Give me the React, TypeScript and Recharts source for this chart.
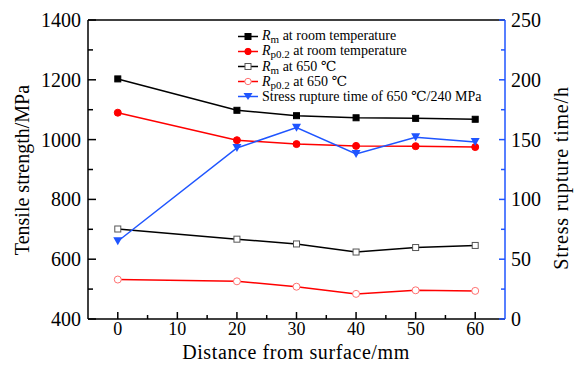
import React from 'react';
import { LineChart, Line, XAxis, YAxis, Legend, ReferenceLine, Label } from 'recharts';

// distance from surface (mm)
const distances = [0, 20, 30, 40, 50, 60];
// tensile strength (MPa)
const rmRoom = [1203, 1098, 1080, 1073, 1071, 1068];
const rpRoom = [1090, 998, 985, 979, 978, 975];
const rm650 = [701, 667, 651, 624, 639, 646];
const rp650 = [532, 526, 508, 484, 496, 494];
// stress rupture time (h)
const ruptureTime = [65, 143, 160, 138, 152, 148];

const xTicks = [0, 5, 10, 15, 20, 25, 30, 35, 40, 45, 50, 55, 60];
const leftTicks = [400, 500, 600, 700, 800, 900, 1000, 1100, 1200, 1300, 1400];
const rightTicks = [0, 25, 50, 75, 100, 125, 150, 175, 200, 225, 250];

const data = distances.map((d, i) => ({
  distance: d,
  rmRoom: rmRoom[i],
  rpRoom: rpRoom[i],
  rm650: rm650[i],
  rp650: rp650[i],
  rupture: ruptureTime[i],
}));

const FONT = 'Liberation Serif, DejaVu Serif, serif';
const BLUE = '#1f55ff';
const RED = '#ff0000';
const PINK = '#ff7070';

const XTick = ({ x, y, payload }: any) => {
  const major = payload.value % 10 === 0;
  return (
    <g>
      <line x1={x} x2={x} y1={y} y2={y - (major ? 7 : 4)} stroke="#000" strokeWidth={1.5} />
      {major && (
        <text x={x} y={y + 16} textAnchor="middle" fontSize={18} style={{ fontFamily: FONT }} fill="#000">
          {payload.value}
        </text>
      )}
    </g>
  );
};

const LeftTick = ({ x, y, payload }: any) => {
  const major = payload.value % 200 === 0;
  return (
    <g>
      <line x1={x} x2={x + (major ? 8 : 5)} y1={y} y2={y} stroke="#000" strokeWidth={1.5} />
      {major && (
        <text x={x - 7} y={y} dy="0.35em" textAnchor="end" fontSize={20} style={{ fontFamily: FONT }} fill="#000">
          {payload.value}
        </text>
      )}
    </g>
  );
};

const RightTick = ({ x, y, payload }: any) => {
  const major = payload.value % 50 === 0;
  return (
    <g>
      <line x1={x} x2={x - (major ? 6 : 4)} y1={y} y2={y} stroke={BLUE} strokeWidth={1.5} />
      {major && (
        <text x={x + 6} y={y} dy="0.35em" textAnchor="start" fontSize={20} style={{ fontFamily: FONT }} fill="#000">
          {payload.value}
        </text>
      )}
    </g>
  );
};

const square = (fill: string, stroke: string) => (p: any) => (
  <rect key={p.index} x={p.cx - 3} y={p.cy - 3} width={6} height={6} fill={fill} stroke={stroke} strokeWidth={1} />
);
const circle = (fill: string, stroke: string) => (p: any) => (
  <circle key={p.index} cx={p.cx} cy={p.cy} r={3.5} fill={fill} stroke={stroke} strokeWidth={1} />
);
const triangle = (p: any) => (
  <polygon
    key={p.index}
    points={`${p.cx - 4.5},${p.cy - 4} ${p.cx + 4.5},${p.cy - 4} ${p.cx},${p.cy + 4}`}
    fill={BLUE}
  />
);

const legendRows = [
  { color: '#000', marker: 'sq', fill: '#000', stroke: '#000', sym: 'm', text: ' at room temperature' },
  { color: RED, marker: 'ci', fill: RED, stroke: RED, sym: 'p0.2', text: ' at room temperature' },
  { color: '#000', marker: 'sq', fill: '#fff', stroke: '#555', sym: 'm', text: ' at 650 ℃' },
  { color: RED, marker: 'ci', fill: '#fff', stroke: PINK, sym: 'p0.2', text: ' at 650 ℃' },
  { color: BLUE, marker: 'tri', fill: BLUE, stroke: BLUE, sym: '', text: 'Stress rupture time of 650 ℃/240 MPa' },
];

const LegendContent = () => (
  <div style={{ fontFamily: FONT, fontSize: 14, color: '#000' }}>
    {legendRows.map((r, i) => (
      <div key={i} style={{ display: 'flex', alignItems: 'center', height: 15, whiteSpace: 'nowrap' }}>
        <svg width={25} height={15} style={{ display: 'block' }}>
          <line x1={1} x2={21} y1={7.5} y2={7.5} stroke={r.color} strokeWidth={1.5} />
          {r.marker === 'sq' && <rect x={8} y={4.5} width={6} height={6} fill={r.fill} stroke={r.stroke} />}
          {r.marker === 'ci' && <circle cx={11} cy={7.5} r={3.2} fill={r.fill} stroke={r.stroke} />}
          {r.marker === 'tri' && <polygon points="6.5,4 15.5,4 11,11" fill={BLUE} />}
        </svg>
        {r.sym ? (
          <span>
            <i>R</i>
            <sub style={{ fontSize: 11, verticalAlign: -3 }}>{r.sym}</sub>
            {r.text}
          </span>
        ) : (
          <span>{r.text}</span>
        )}
      </div>
    ))}
  </div>
);

export default function App() {
  return (
    <div style={{ position: 'absolute', left: 0, top: 0, background: '#fff' }}>
      <LineChart width={574} height={365} data={data} margin={{ top: 20, right: 0, left: 0, bottom: 0 }}>
        <XAxis
          dataKey="distance"
          type="number"
          domain={[-5, 65]}
          ticks={xTicks}
          interval={0}
          height={46}
          tickSize={0}
          tickMargin={0}
          tick={XTick}
          axisLine={{ stroke: '#000', strokeWidth: 1.5 }}
          tickLine={false}
        >
          <Label
            content={() => (
              <text x={296} y={359} textAnchor="middle" fontSize={20} style={{ fontFamily: FONT }} fill="#000" letterSpacing={0.6}>
                Distance from surface/mm
              </text>
            )}
          />
        </XAxis>
        <YAxis
          yAxisId="left"
          type="number"
          domain={[400, 1400]}
          ticks={leftTicks}
          interval={0}
          width={88}
          tickSize={0}
          tickMargin={0}
          tick={LeftTick}
          axisLine={{ stroke: '#000', strokeWidth: 1.5 }}
          tickLine={false}
        >
          <Label
            content={() => (
              <text
                x={22}
                y={170}
                transform="rotate(-90 22 170)"
                textAnchor="middle"
                dominantBaseline="central"
                fontSize={20}
                style={{ fontFamily: FONT }}
                fill="#000"
              >
                Tensile strength/MPa
              </text>
            )}
          />
        </YAxis>
        <YAxis
          yAxisId="right"
          orientation="right"
          type="number"
          domain={[0, 250]}
          ticks={rightTicks}
          interval={0}
          width={69}
          tickSize={0}
          tickMargin={0}
          tick={RightTick}
          axisLine={{ stroke: BLUE, strokeWidth: 1.5 }}
          tickLine={false}
        >
          <Label
            content={() => (
              <text
                x={561}
                y={178}
                transform="rotate(-90 561 178)"
                textAnchor="middle"
                dominantBaseline="central"
                fontSize={20}
                letterSpacing={0.8}
                style={{ fontFamily: FONT }}
                fill="#000"
              >
                Stress rupture time/h
              </text>
            )}
          />
        </YAxis>
        <ReferenceLine yAxisId="left" y={1400} stroke="#000" strokeWidth={1.5} />
        <Legend
          layout="vertical"
          align="center"
          verticalAlign="middle"
          content={LegendContent}
          wrapperStyle={{ left: 237, top: 29, width: 'auto', height: 'auto' }}
        />
        <Line yAxisId="left" dataKey="rmRoom" stroke="#000" strokeWidth={1.5} dot={square('#000', '#000')} activeDot={false} isAnimationActive={false} />
        <Line yAxisId="left" dataKey="rpRoom" stroke={RED} strokeWidth={1.5} dot={circle(RED, RED)} activeDot={false} isAnimationActive={false} />
        <Line yAxisId="left" dataKey="rm650" stroke="#000" strokeWidth={1.5} dot={square('#fff', '#555')} activeDot={false} isAnimationActive={false} />
        <Line yAxisId="left" dataKey="rp650" stroke={RED} strokeWidth={1.5} dot={circle('#fff', PINK)} activeDot={false} isAnimationActive={false} />
        <Line yAxisId="right" dataKey="rupture" stroke={BLUE} strokeWidth={1.5} dot={triangle} activeDot={false} isAnimationActive={false} />
      </LineChart>
    </div>
  );
}
